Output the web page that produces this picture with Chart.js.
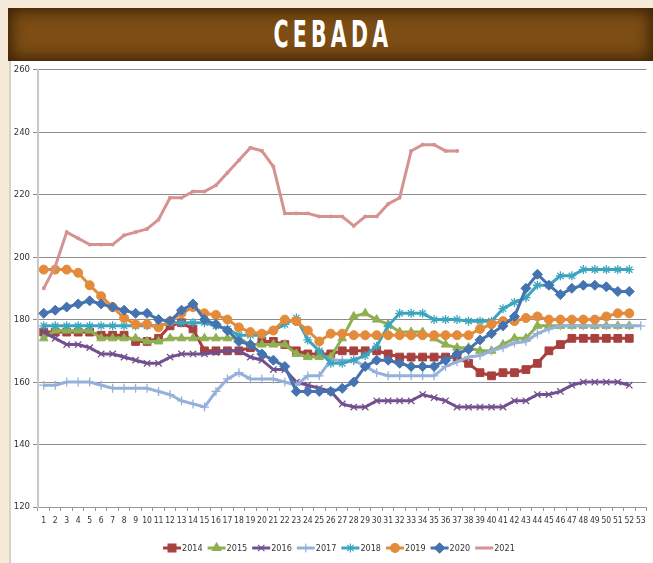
<!DOCTYPE html>
<html lang="es">
<head>
    <meta charset="UTF-8">
    <title>Cebada</title>
    <script src="https://cdn.jsdelivr.net/npm/chart.js"></script>
    <style>
        body {
            margin: 0;
            width: 653px;
            height: 563px;
            background: #f5ebd8;
            position: relative;
            overflow: hidden;
            font-family: "DejaVu Sans Condensed", sans-serif;
        }
        .banner {
            position: absolute;
            left: 8px;
            top: 8px;
            width: 645px;
            height: 53px;
            background: #7c4d14;
            box-shadow: inset 0 0 14px 4px rgba(50, 28, 5, 0.85);
            text-align: center;
        }
        .banner h1 {
            margin: 0;
            padding-left: 8px;
            color: #fff;
            font-family: "DejaVu Sans Condensed", sans-serif;
            font-weight: bold;
            font-size: 38px;
            line-height: 53px;
            letter-spacing: 7px;
            transform: scaleX(0.6);
        }
        .panel {
            position: absolute;
            left: 9px;
            top: 61px;
            width: 644px;
            height: 502px;
            background: #fff;
            border-left: 2px solid #d6d2cb;
        }
        #grafico {
            position: absolute;
            left: 0;
            top: 0;
        }
    </style>
</head>
<body>
    <div class="banner"><h1>CEBADA</h1></div>
    <div class="panel">
        <canvas id="grafico" width="642" height="502"></canvas>
    </div>

    <script>
        const semanas = ["1","2","3","4","5","6","7","8","9","10","11","12","13","14","15","16","17","18","19","20",
            "21","22","23","24","25","26","27","28","29","30","31","32","33","34","35","36","37","38","39","40",
            "41","42","43","44","45","46","47","48","49","50","51","52","53"];

        const anos = ["2014", "2015", "2016", "2017", "2018", "2019", "2020", "2021"];

        const v2014 = [176,176,176,176,176,175,175,175,173,173, 174,178,179,177,170,170,170,170,171,173,
            173,172,170,169,169,169,170,170,170,170, 169,168,168,168,168,168,168,166,163,162,
            163,163,164,166,170,172,174,174,174,174,174,174];
        const v2015 = [174,176.5,176.5,176.5,176.5,174,174,174,174,173, 173,174,174,174,174,174,174,174,172,172,
            172,172,169,168,168,168,174,181,182,180, 178.5,176,176,176,174,172,171,171,170,170,
            172,174,174,178,178,178,178,178,178,178,178,178];
        const v2016 = [176,174,172,172,171,169,169,168,167,166, 166,168,169,169,169,169.5,170,170,168,167,
            164,164,160,159,158,157,153,152,152,154, 154,154,154,156,155,154,152,152,152,152,
            152,154,154,156,156,157,159,160,160,160,160,159];
        const v2017 = [159,159,160,160,160,159,158,158,158,158, 157,156,154,153,152,157,161,163,161,161,
            161,160,159,162,162,167,167,167,165,163, 162,162,162,162,162,165,166.5,168,168.5,170,
            171,172.5,173,175.5,177,178,178,178,178,178,178,178,178];
        const v2018 = [178,178,178,178,178,178,178,178,178,178, 178,179,179,179,179,178,177,175,175,175,
            176.5,178.5,180.5,173.5,170,166,166,167,168.5,171.5, 178,182,182,182,180,180,180,179.5,179.5,179.5,
            183.5,185.5,187,191,191,194,194,196,196,196,196,196];
        const v2019 = [196,196,196,195,191,187.5,184,180.5,178.5,178.5, 177.5,179.5,182,184,182,181.5,180,177.5,176,175.5,
            176.5,180,179.5,176.5,173,175.5,175.5,175,175,175, 175,175,175,175,175,175,175,175,177,178.5,
            179.5,179.5,180.5,181,180,180,180,180,180,181,182,182];
        const v2020 = [182,183,184,185,186,185,184,183,182,182, 180,179.5,183,185,180,178.5,176.5,173,172,169,
            167,165,157,157,157,157,158,160,165,167, 167,166,165,165,165,167,169,170.5,173.5,175.5,
            178,181,190,194.5,191,188,190,191,191,190.5,189,189];
        const v2021 = [190,197,208,206,204,204,204,207,208,209, 212,219,219,221,221,223,227,231,235,234,
            229,214,214,214,213,213,213,210,213,213, 217,219,234,236,236,234,234];

        const ticksY = [120, 140, 160, 180, 200, 220, 240, 260];

        const valores = [v2014, v2015, v2016, v2017, v2018, v2019, v2020, v2021];
        const cores = ["#a8403e", "#8fb052", "#72508f", "#95b1da", "#3ba5bf", "#e38b3b", "#4473b0", "#d69291"];
        const marcadores = ["rect", "triangle", "crossRot", "cross", "star", "circle", "rectRot", "rect"];
        const raios = [5.5, 5, 4.5, 4.5, 4.5, 4.5, 5, 1.8];

        const datasets = anos.map((ano, i) => ({
            label: ano,
            data: valores[i],
            borderColor: cores[i],
            backgroundColor: cores[i],
            pointBackgroundColor: cores[i],
            pointBorderColor: cores[i],
            pointStyle: marcadores[i],
            pointRadius: raios[i],
            pointBorderWidth: (marcadores[i] == "cross" || marcadores[i] == "crossRot" || marcadores[i] == "star") ? 1.3 : 1,
            borderWidth: 3,
            tension: 0,
            order: anos.length - i
        }));

        const fonteX = { family: "'DejaVu Sans Condensed', sans-serif", size: 8.5 };
        const fonteY = { family: "'DejaVu Sans Condensed', sans-serif", size: 9.5 };

        // legenda no estilo do Excel: linha com o marcador no meio
        const legendaExcel = {
            id: "legendaExcel",
            afterDraw(chart) {
                const ctx = chart.ctx;
                let x = 152;
                const y = 487;
                ctx.save();
                ctx.font = "9px 'DejaVu Sans Condensed', sans-serif";
                ctx.textBaseline = "middle";
                anos.forEach((ano, i) => {
                    ctx.strokeStyle = cores[i];
                    ctx.lineWidth = 3;
                    ctx.beginPath();
                    ctx.moveTo(x, y);
                    ctx.lineTo(x + 18, y);
                    ctx.stroke();
                    if (i < 7) {
                        ctx.fillStyle = cores[i];
                        ctx.lineWidth = 1.2;
                        if (Chart.helpers && Chart.helpers.drawPoint) {
                            Chart.helpers.drawPoint(ctx, { pointStyle: marcadores[i], radius: raios[i], rotation: 0, borderWidth: 1.2 }, x + 9, y);
                        } else {
                            ctx.fillRect(x + 5, y - 4, 8, 8);
                        }
                    }
                    ctx.fillStyle = "#333";
                    ctx.fillText(ano, x + 19, y + 1);
                    x += 44.6;
                });
                ctx.restore();
            }
        };

        const grafico = new Chart(document.getElementById("grafico").getContext("2d"), {
            type: "line",
            data: { labels: semanas, datasets: datasets },
            options: {
                responsive: false,
                animation: false,
                devicePixelRatio: 1,
                layout: { padding: { top: 8, right: 2, bottom: 32, left: 0 } },
                plugins: {
                    legend: { display: false },
                    tooltip: { enabled: false }
                },
                scales: {
                    x: {
                        offset: true,
                        grid: { offset: true, drawOnChartArea: false, tickLength: 4, color: "#999" },
                        border: { color: "#999", width: 1 },
                        ticks: { font: fonteX, color: "#333", maxRotation: 0, autoSkip: false, padding: 5 },
                        afterFit(axis) { axis.height = 24; }
                    },
                    y: {
                        min: 120,
                        max: 260,
                        afterBuildTicks(axis) { axis.ticks = ticksY.map(v => ({ value: v })); },
                        grid: { color: "#8c8c8c", lineWidth: 1, tickLength: 5 },
                        border: { color: "#c8c8c8", width: 2 },
                        ticks: { font: fonteY, color: "#333", padding: 3 },
                        afterFit(axis) { axis.width = 27; }
                    }
                }
            },
            plugins: [legendaExcel]
        });
    </script>
</body>
</html>
